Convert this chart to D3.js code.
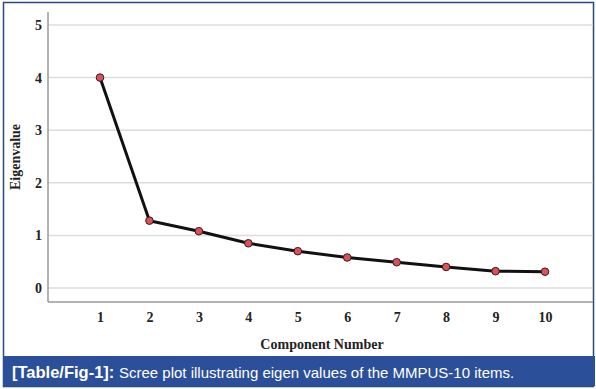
<!DOCTYPE html>
<html>
<head>
<meta charset="utf-8">
<script src="https://cdn.jsdelivr.net/npm/d3@7"></script>
<style>
  body { margin: 0; background: #fff; }
  .tick text { font-family: "Liberation Serif", serif; font-weight: bold; font-size: 14px; fill: #222; }
</style>
</head>
<body>
<svg id="chart" width="596" height="389"></svg>
<script>
// scree plot values
const components = [1, 2, 3, 4, 5, 6, 7, 8, 9, 10]
const eigenvalues = [4.0, 1.28, 1.08, 0.85, 0.70, 0.58, 0.49, 0.40, 0.32, 0.31]
const yTicks = [0, 1, 2, 3, 4, 5]
const caption = ['[Table/Fig-1]:', 'Scree plot illustrating eigen values of the MMPUS-10 items.']

const svg = d3.select('#chart')

const xScale = d3.scaleLinear()
  .domain([1, 10])
  .range([100, 545])

const yScale = d3.scaleLinear()
  .domain([0, 5])
  .range([288, 25])

const plotLeft = 48
const plotRight = 593
const plotTop = 12
const plotBottom = 302

// frame
svg.append('rect')
  .attr('x', 3.5).attr('y', 2.5)
  .attr('width', 590).attr('height', 384)
  .attr('fill', '#fff')
  .attr('stroke', '#2b4a7e')
  .attr('stroke-width', 1.5)

// grid lines
svg.append('g')
  .selectAll('line')
  .data(yTicks)
  .enter()
  .append('line')
  .attr('x1', plotLeft)
  .attr('x2', plotRight)
  .attr('y1', d => yScale(d))
  .attr('y2', d => yScale(d))
  .attr('stroke', '#dcdcdc')
  .attr('stroke-width', 1.5)

// axis lines
svg.append('line')
  .attr('x1', plotLeft).attr('x2', plotLeft)
  .attr('y1', plotTop).attr('y2', plotBottom)
  .attr('stroke', '#9a9a9a').attr('stroke-width', 1.5)
svg.append('line')
  .attr('x1', plotLeft).attr('x2', plotRight)
  .attr('y1', plotBottom).attr('y2', plotBottom)
  .attr('stroke', '#9a9a9a').attr('stroke-width', 1.5)

const leftAxis = d3.axisLeft(yScale)
  .tickValues(yTicks)
  .tickSize(0)
  .tickPadding(0)
  .tickFormat(d3.format('d'))

svg.append('g')
  .attr('transform', `translate(${plotLeft - 6}, 0)`)
  .call(leftAxis)
  .call(g => g.select('.domain').remove())

const bottomAxis = d3.axisBottom(xScale)
  .tickValues(components)
  .tickSize(0)
  .tickPadding(0)
  .tickFormat(d3.format('d'))

svg.append('g')
  .attr('transform', `translate(0, ${plotBottom + 10})`)
  .call(bottomAxis)
  .call(g => g.select('.domain').remove())

// axis titles
svg.append('text')
  .text('Component Number')
  .attr('x', 322)
  .attr('y', 349)
  .attr('text-anchor', 'middle')
  .attr('font-family', 'Liberation Serif, serif')
  .attr('font-weight', 'bold')
  .attr('font-size', 14)
  .attr('fill', '#222')

svg.append('text')
  .text('Eigenvalue')
  .attr('transform', 'translate(20, 157) rotate(-90)')
  .attr('text-anchor', 'middle')
  .attr('font-family', 'Liberation Serif, serif')
  .attr('font-weight', 'bold')
  .attr('font-size', 14)
  .attr('fill', '#222')

// line and points
const line = d3.line()
  .x((d, i) => xScale(components[i]))
  .y(d => yScale(d))

svg.append('path')
  .datum(eigenvalues)
  .attr('d', line)
  .attr('fill', 'none')
  .attr('stroke', '#111')
  .attr('stroke-width', 3)
  .attr('stroke-linejoin', 'round')

svg.append('g')
  .selectAll('circle')
  .data(eigenvalues)
  .enter()
  .append('circle')
  .attr('cx', (d, i) => xScale(components[i]))
  .attr('cy', d => yScale(d))
  .attr('r', 3.8)
  .attr('fill', '#d9515a')
  .attr('stroke', '#3a1a1a')
  .attr('stroke-width', 1)

// caption bar
svg.append('rect')
  .attr('x', 3).attr('y', 356)
  .attr('width', 592).attr('height', 30)
  .attr('fill', '#2b4f98')

svg.append('text')
  .attr('x', 12)
  .attr('y', 378)
  .attr('font-family', 'Liberation Sans, Arial, sans-serif')
  .attr('font-weight', 'bold')
  .attr('font-size', 16.5)
  .attr('fill', '#fff')
  .text(caption[0])

svg.append('text')
  .attr('x', 119)
  .attr('y', 378)
  .attr('font-family', 'Liberation Sans, Arial, sans-serif')
  .attr('font-size', 15)
  .attr('fill', '#fff')
  .text(caption[1])
</script>
</body>
</html>
